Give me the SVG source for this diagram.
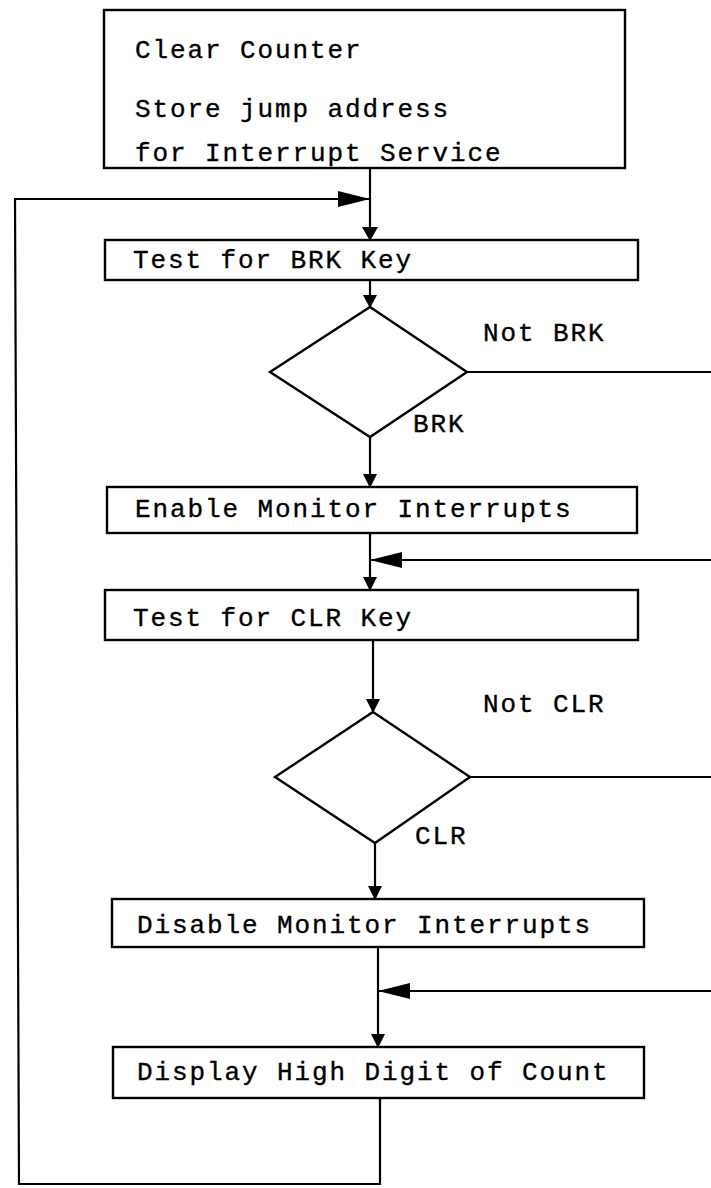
<svg xmlns="http://www.w3.org/2000/svg" width="711" height="1188" viewBox="0 0 711 1188">
<style>
.box{fill:#fff;stroke:#000;stroke-width:2.4}
.ln{fill:none;stroke:#000;stroke-width:2.2}
.t{font-family:"Liberation Mono","Courier New",monospace;font-size:26px;letter-spacing:1.9px;fill:#000;stroke:#000;stroke-width:0.35}
</style>
<rect width="711" height="1188" fill="#fff"/>
<g id="connectors">
<line class="ln" x1="370" y1="168" x2="370" y2="240"/>
<path d="M362,227 L370,241 L378,227 z"/>
<polyline class="ln" points="380,1098 380,1184 19,1184 15,199 370,199"/>
<path d="M338,191 L370,199 L338,207 z"/>
<line class="ln" x1="370" y1="280" x2="370" y2="307"/>
<path d="M363,295 L370,308 L377,295 z"/>
<line class="ln" x1="467" y1="372" x2="711" y2="372"/>
<line class="ln" x1="370" y1="437" x2="370" y2="487"/>
<path d="M363,474 L370,488 L377,474 z"/>
<line class="ln" x1="370" y1="533" x2="370" y2="590"/>
<path d="M363,577 L370,591 L377,577 z"/>
<line class="ln" x1="370" y1="560" x2="711" y2="560"/>
<path d="M402,552 L370,560 L402,568 z"/>
<line class="ln" x1="373" y1="640" x2="373" y2="712"/>
<path d="M366,699 L373,713 L380,699 z"/>
<line class="ln" x1="470" y1="777" x2="711" y2="777"/>
<line class="ln" x1="375" y1="843" x2="375" y2="899"/>
<path d="M368,886 L375,900 L382,886 z"/>
<line class="ln" x1="378" y1="947" x2="378" y2="1047"/>
<path d="M371,1034 L378,1048 L385,1034 z"/>
<line class="ln" x1="378" y1="991" x2="711" y2="991"/>
<path d="M410,983 L378,991 L410,999 z"/>
</g>
<g id="n1">
<rect class="box" x="104" y="10" width="521" height="158"/>
<text class="t" x="135" y="58">Clear Counter</text>
<text class="t" x="135" y="117">Store jump address</text>
<text class="t" x="135" y="161">for Interrupt Service</text>
</g>
<g id="n2">
<rect class="box" x="105" y="240" width="533" height="40"/>
<text class="t" x="133" y="268">Test for BRK Key</text>
</g>
<g id="d1">
<polygon class="box" points="370,307 467,372 370,437 270,372"/>
<text class="t" x="483" y="341">Not BRK</text>
<text class="t" x="413" y="432">BRK</text>
</g>
<g id="n3">
<rect class="box" x="107" y="487" width="530" height="46"/>
<text class="t" x="135" y="517">Enable Monitor Interrupts</text>
</g>
<g id="n4">
<rect class="box" x="105" y="590" width="533" height="50"/>
<text class="t" x="133" y="626">Test for CLR Key</text>
</g>
<g id="d2">
<polygon class="box" points="373,712 470,777 375,843 275,777"/>
<text class="t" x="483" y="712">Not CLR</text>
<text class="t" x="415" y="844">CLR</text>
</g>
<g id="n5">
<rect class="box" x="112" y="899" width="532" height="48"/>
<text class="t" x="137" y="933">Disable Monitor Interrupts</text>
</g>
<g id="n6">
<rect class="box" x="113" y="1047" width="531" height="51"/>
<text class="t" x="137" y="1080">Display High Digit of Count</text>
</g>
</svg>
